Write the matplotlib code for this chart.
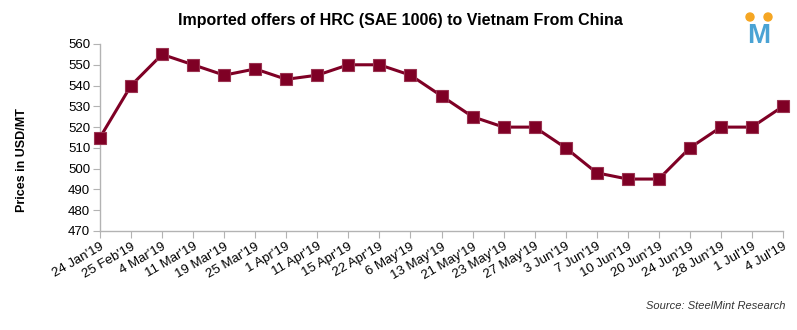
import matplotlib
matplotlib.use("Agg")
import matplotlib.pyplot as plt
from matplotlib.patches import Ellipse

dates = ["24 Jan'19", "25 Feb'19", "4 Mar'19", "11 Mar'19", "19 Mar'19", "25 Mar'19",
         "1 Apr'19", "11 Apr'19", "15 Apr'19", "22 Apr'19", "6 May'19", "13 May'19",
         "21 May'19", "23 May'19", "27 May'19", "3 Jun'19", "7 Jun'19", "10 Jun'19",
         "20 Jun'19", "24 Jun'19", "28 Jun'19", "1 Jul'19", "4 Jul'19"]
prices = [515, 540, 555, 550, 545, 548, 543, 545, 550, 550, 545, 535,
          525, 520, 520, 510, 498, 495, 495, 510, 520, 520, 530]
yticks = list(range(470, 561, 10))

plt.rcParams['font.family'] = ['Liberation Sans', 'DejaVu Sans']

fig = plt.figure(figsize=(7.97, 3.30), dpi=100)
W, H = 797, 330
ax = fig.add_axes([100 / W, 1 - 231 / H, (783 - 100) / W, (231 - 44) / H])

x = list(range(len(dates)))
col = '#7f0025'
ax.plot(x, prices, color=col, lw=2.2, marker='s', markersize=8,
        markerfacecolor=col, markeredgecolor='#9a3350', markeredgewidth=0.8, clip_on=False, zorder=3)

ax.set_xlim(0, len(dates) - 1)
ax.set_ylim(470, 560)
ax.set_yticks(yticks)
ax.set_xticks(x)
ax.set_xticklabels(dates, rotation=30, ha='right', rotation_mode='anchor', fontsize=9.5)
ax.tick_params(axis='y', labelsize=9.5, length=5, color='#b3b3b3', pad=2)
ax.tick_params(axis='x', length=5, color='#b3b3b3', pad=2)
for s in ['top', 'right']:
    ax.spines[s].set_visible(False)
for s in ['left', 'bottom']:
    ax.spines[s].set_color('#b3b3b3')
    ax.spines[s].set_linewidth(1)

fig.text(22 / W, 1 - 160 / H, 'Prices in USD/MT', rotation=90, ha='center', va='center',
         fontsize=9, fontweight='bold')
fig.text(400 / W, 1 - 20 / H, 'Imported offers of HRC (SAE 1006) to Vietnam From China',
         ha='center', va='center', fontsize=11.5, fontweight='bold')
fig.text(785 / W, 1 - 306 / H, 'Source: SteelMint Research', ha='right', va='center',
         fontsize=8, style='italic', color='#333333')

# logo
fig.text(759 / W, 1 - 36 / H, 'M', ha='center', va='center', fontsize=20,
         fontweight='bold', color='#4aa3d4')
for cx in (750, 768):
    fig.patches.append(Ellipse((cx / W, 1 - 17 / H), 8 / W, 8 / H, transform=fig.transFigure,
                               color='#f5a623', figure=fig))

fig.savefig('out.png', dpi=100)
